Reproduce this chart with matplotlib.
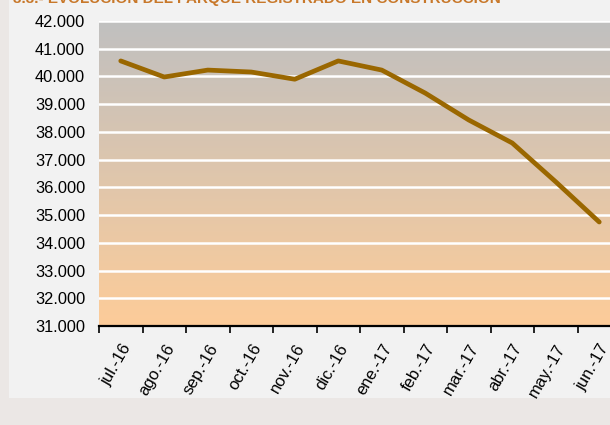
import numpy as np
import matplotlib.pyplot as plt
from matplotlib.ticker import FuncFormatter

meses = ['jul.-16', 'ago.-16', 'sep.-16', 'oct.-16', 'nov.-16', 'dic.-16',
         'ene.-17', 'feb.-17', 'mar.-17', 'abr.-17', 'may.-17', 'jun.-17']
parque = [40560, 39980, 40230, 40160, 39900, 40560,
          40230, 39400, 38430, 37600, 36200, 34750]
titulo = '3.3.- EVOLUCIÓN DEL PARQUE REGISTRADO EN CONSTRUCCIÓN'

plt.rcParams['font.family'] = ['Liberation Sans', 'DejaVu Sans']

fig = plt.figure(figsize=(6.1, 4.25), dpi=100)
fig.patch.set_facecolor('#ebe7e5')

# panel claro interior
panel = plt.Rectangle((9 / 610, 27 / 425), 1, 1, transform=fig.transFigure,
                      facecolor='#f2f2f2', edgecolor='none', zorder=-5)
fig.patches.append(panel)

# título cortado arriba (sólo se ve la parte inferior)
fig.text(13 / 610, 1 - 3.5 / 425, titulo, color='#c8782a', fontsize=11,
         fontweight='bold', ha='left', va='baseline')

ax = fig.add_axes([99 / 610, 1 - 326 / 425, 522 / 610, 305 / 425])
n = len(meses)
x = np.arange(n)

# fondo degradado gris -> melocotón
top = np.array([192, 192, 192]) / 255
bot = np.array([253, 204, 153]) / 255
t = np.linspace(0, 1, 256)[:, None]
grad = (top * (1 - t) + bot * t)[:, None, :]
ax.imshow(grad, extent=[-0.5, n - 0.5, 31000, 42000], aspect='auto',
          origin='upper', zorder=0)

for yv in range(32000, 42001, 1000):
    ax.axhline(yv, color='white', lw=1.8, zorder=1)

ax.plot(x, parque, color='#9a6700', lw=3.4, solid_capstyle='round',
        solid_joinstyle='round', zorder=3)

ax.set_xlim(-0.5, n - 0.5)
ax.set_ylim(31000, 42000)
ax.set_yticks(range(31000, 42001, 1000))
ax.yaxis.set_major_formatter(FuncFormatter(lambda v, p: f'{v:,.0f}'.replace(',', '.')))
ax.tick_params(axis='y', length=0, pad=10, labelsize=11.8)

ax.set_xticks(np.arange(n + 1) - 0.5)
ax.set_xticklabels([])
ax.tick_params(axis='x', which='major', direction='out', length=5,
               width=1.2, color='black')
ax.set_xticks(x, minor=True)
ax.set_xticklabels(meses, minor=True, rotation=60, ha='right',
                   rotation_mode='anchor', fontsize=12)
ax.tick_params(axis='x', which='minor', length=0, pad=11)

for s in ['top', 'right', 'left']:
    ax.spines[s].set_visible(False)
ax.spines['bottom'].set_linewidth(1.6)
ax.spines['bottom'].set_zorder(4)

fig.savefig('out.png', dpi=100, facecolor=fig.get_facecolor())
